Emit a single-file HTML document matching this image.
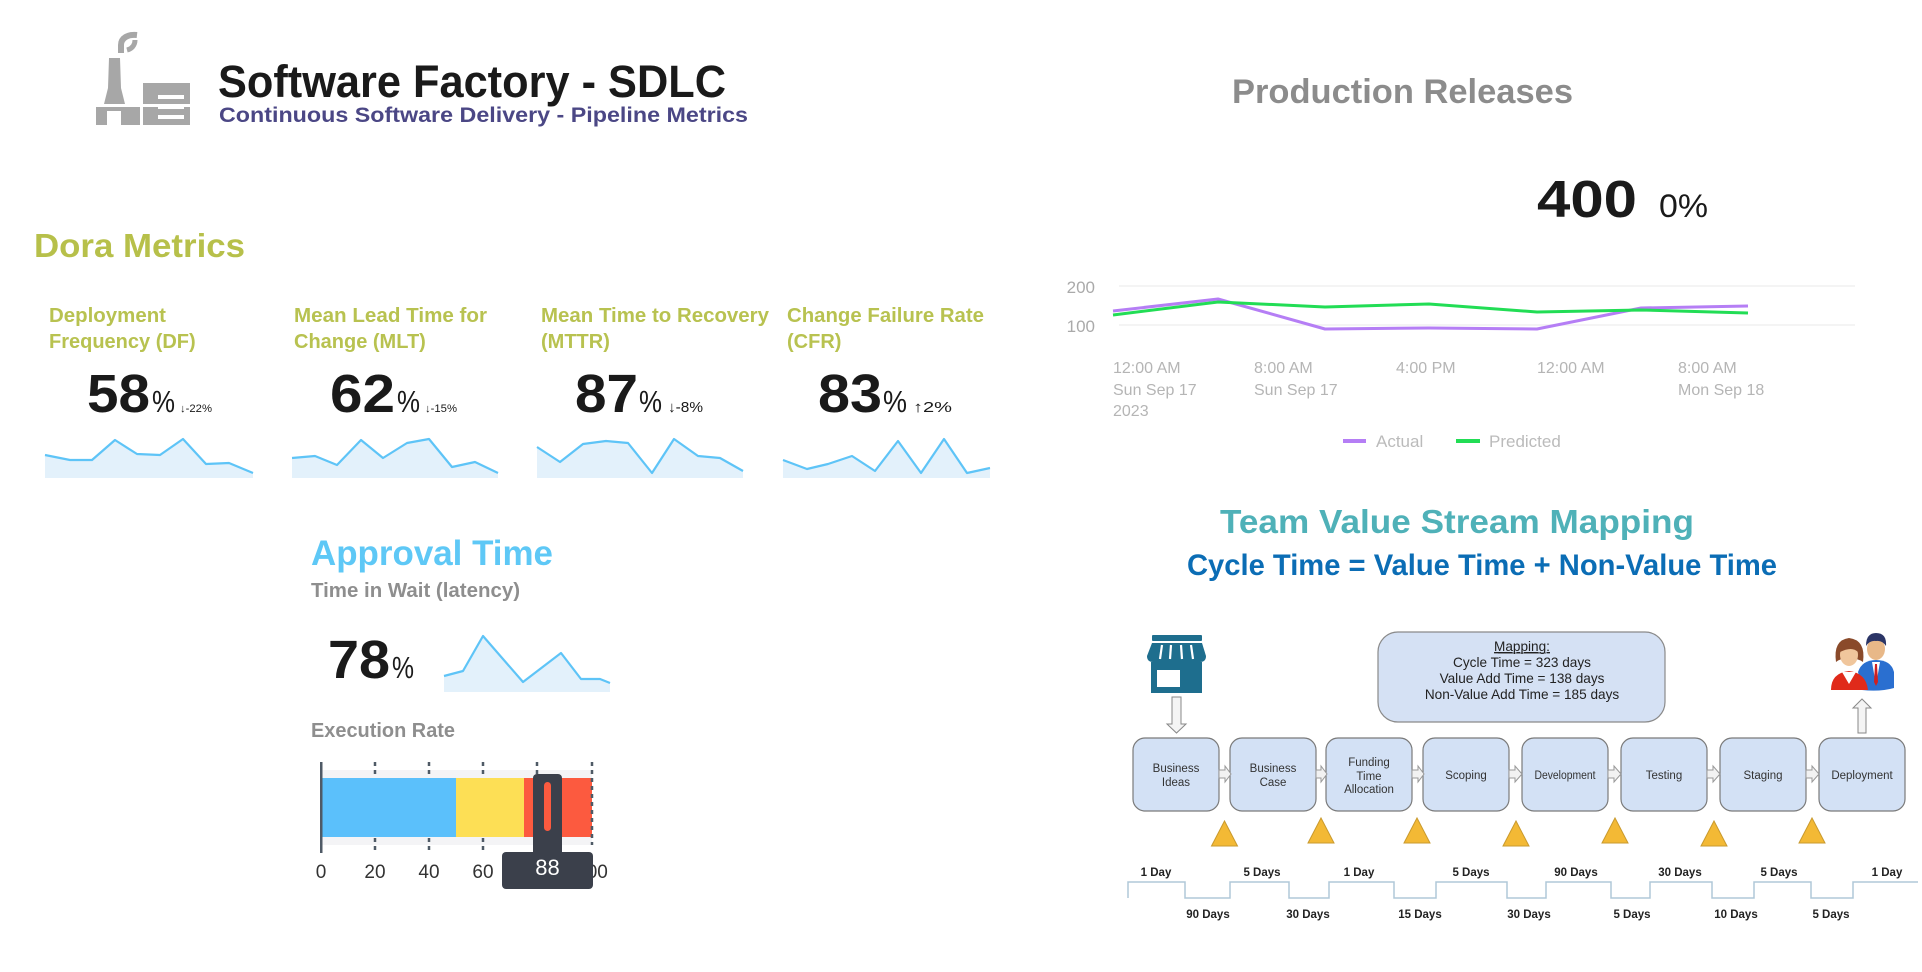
<!DOCTYPE html>
<html><head><meta charset="utf-8"><style>
html,body{margin:0;padding:0;background:#fff;width:1922px;height:972px;overflow:hidden}
svg{display:block}
</style></head><body>
<svg width="1922" height="972" viewBox="0 0 1922 972" xmlns="http://www.w3.org/2000/svg" font-family="'Liberation Sans', Arial, sans-serif">
<rect width="1922" height="972" fill="#ffffff"/>

<!-- Factory icon -->
<g fill="#a7a7a7">
  <path d="M137,35 C128,34 121,38 121,45 L121,53" fill="none" stroke="#a7a7a7" stroke-width="6"/>
  <path d="M135,40 C135,46 131,49 127,50" fill="none" stroke="#a7a7a7" stroke-width="5"/>
  <polygon points="109,58 120,58 121,88 125,104 104,104 108,88"/>
  <rect x="96" y="104" width="48" height="21"/>
  <rect x="143" y="83" width="47" height="42"/>
  <rect x="107" y="111" width="14" height="14" fill="#fff"/>
  <rect x="96" y="104" width="94" height="3" fill="#fff"/>
  <rect x="158" y="95" width="26" height="4" fill="#fff"/>
  <rect x="158" y="105" width="26" height="4" fill="#fff"/>
  <rect x="158" y="115" width="26" height="4" fill="#fff"/>
  <rect x="140" y="107" width="3" height="18" fill="#fff"/>
</g>

<!-- Header -->
<text x="218" y="97" font-size="45" font-weight="bold" fill="#1a1a1a" textLength="508" lengthAdjust="spacingAndGlyphs">Software Factory - SDLC</text>
<text x="219" y="122" font-size="21" font-weight="bold" fill="#4b4785" textLength="529" lengthAdjust="spacingAndGlyphs">Continuous Software Delivery - Pipeline Metrics</text>

<!-- Dora -->
<text x="34" y="257" font-size="33" font-weight="bold" fill="#b7c04a" textLength="211" lengthAdjust="spacingAndGlyphs">Dora Metrics</text>

<g font-size="20" font-weight="bold" fill="#b8c250">
  <text x="49" y="322" textLength="117" lengthAdjust="spacingAndGlyphs">Deployment</text>
  <text x="49" y="348">Frequency (DF)</text>
  <text x="294" y="322" textLength="193" lengthAdjust="spacingAndGlyphs">Mean Lead Time for</text>
  <text x="294" y="348">Change (MLT)</text>
  <text x="541" y="322" textLength="228" lengthAdjust="spacingAndGlyphs">Mean Time to Recovery</text>
  <text x="541" y="348">(MTTR)</text>
  <text x="787" y="322" textLength="197" lengthAdjust="spacingAndGlyphs">Change Failure Rate</text>
  <text x="787" y="348">(CFR)</text>
</g>

<g fill="#1a1a1a">
  <text x="87" y="412" font-size="54" font-weight="bold" textLength="63" lengthAdjust="spacingAndGlyphs">58</text>
  <text x="152" y="412" font-size="31" textLength="23" lengthAdjust="spacingAndGlyphs">%</text>
  <text x="180" y="412" font-size="11" textLength="32" lengthAdjust="spacingAndGlyphs">↓-22%</text>

  <text x="330" y="412" font-size="54" font-weight="bold" textLength="65" lengthAdjust="spacingAndGlyphs">62</text>
  <text x="397" y="412" font-size="31" textLength="23" lengthAdjust="spacingAndGlyphs">%</text>
  <text x="425" y="412" font-size="11" textLength="32" lengthAdjust="spacingAndGlyphs">↓-15%</text>

  <text x="575" y="412" font-size="54" font-weight="bold" textLength="63" lengthAdjust="spacingAndGlyphs">87</text>
  <text x="639" y="412" font-size="31" textLength="23" lengthAdjust="spacingAndGlyphs">%</text>
  <text x="668" y="412" font-size="15" textLength="35" lengthAdjust="spacingAndGlyphs">↓-8%</text>

  <text x="818" y="412" font-size="54" font-weight="bold" textLength="64" lengthAdjust="spacingAndGlyphs">83</text>
  <text x="883" y="412" font-size="31" textLength="24" lengthAdjust="spacingAndGlyphs">%</text>
  <text x="913" y="412" font-size="15" textLength="39" lengthAdjust="spacingAndGlyphs">↑2%</text>
</g>

<!-- Sparklines -->
<g stroke-linejoin="round">
  <polygon fill="#e3f1fb" points="45,455 70,460 92,460 115,440 137,454 160,455 183,439 206,464 229,463 253,473 253,478 45,478"/>
  <polyline fill="none" stroke="#5ec4f7" stroke-width="2.2" points="45,455 70,460 92,460 115,440 137,454 160,455 183,439 206,464 229,463 253,473"/>
  <polygon fill="#e3f1fb" points="292,458 315,456 337,465 361,440 383,458 407,443 429,439 452,467 475,462 498,473 498,478 292,478"/>
  <polyline fill="none" stroke="#5ec4f7" stroke-width="2.2" points="292,458 315,456 337,465 361,440 383,458 407,443 429,439 452,467 475,462 498,473"/>
  <polygon fill="#e3f1fb" points="537,447 560,462 583,444 606,441 628,443 652,473 674,439 698,456 720,458 743,471 743,478 537,478"/>
  <polyline fill="none" stroke="#5ec4f7" stroke-width="2.2" points="537,447 560,462 583,444 606,441 628,443 652,473 674,439 698,456 720,458 743,471"/>
  <polygon fill="#e3f1fb" points="783,460 807,469 828,464 852,456 875,471 898,441 921,473 944,439 967,473 990,468 990,478 783,478"/>
  <polyline fill="none" stroke="#5ec4f7" stroke-width="2.2" points="783,460 807,469 828,464 852,456 875,471 898,441 921,473 944,439 967,473 990,468"/>
</g>

<!-- Approval time -->
<text x="311" y="565" font-size="35" font-weight="bold" fill="#5ec8f6" textLength="242" lengthAdjust="spacingAndGlyphs">Approval Time</text>
<text x="311" y="597" font-size="20" font-weight="bold" fill="#8e8e8e" textLength="209" lengthAdjust="spacingAndGlyphs">Time in Wait (latency)</text>
<text x="328" y="678" font-size="54" font-weight="bold" fill="#1a1a1a" textLength="62" lengthAdjust="spacingAndGlyphs">78</text>
<text x="392" y="678" font-size="31" fill="#1a1a1a" textLength="22" lengthAdjust="spacingAndGlyphs">%</text>
<polygon fill="#e3f1fb" points="444,676 463,671 483,636 523,682 561,653 581,679 600,679 610,683 610,692 444,692"/>
<polyline fill="none" stroke="#5ec4f7" stroke-width="2.2" stroke-linejoin="round" points="444,676 463,671 483,636 523,682 561,653 581,679 600,679 610,683"/>

<!-- Execution rate gauge -->
<text x="311" y="737" font-size="20" font-weight="bold" fill="#8e8e8e" textLength="144" lengthAdjust="spacingAndGlyphs">Execution Rate</text>
<rect x="321" y="770" width="271" height="75" fill="#f4f4f6"/>
<rect x="321" y="778" width="135" height="59" fill="#5bc0fb"/>
<rect x="456" y="778" width="68" height="59" fill="#fddf55"/>
<rect x="524" y="778" width="68" height="59" fill="#fc5a3f"/>
<g stroke="#4f5a66" stroke-width="2.5" stroke-dasharray="4 4">
  <line x1="375" y1="762" x2="375" y2="777"/><line x1="375" y1="838" x2="375" y2="852"/>
  <line x1="429" y1="762" x2="429" y2="777"/><line x1="429" y1="838" x2="429" y2="852"/>
  <line x1="483" y1="762" x2="483" y2="777"/><line x1="483" y1="838" x2="483" y2="852"/>
  <line x1="537" y1="762" x2="537" y2="777"/><line x1="537" y1="838" x2="537" y2="852"/>
  <line x1="592" y1="762" x2="592" y2="845"/>
</g>
<rect x="320" y="762" width="2.5" height="91" fill="#4f5a66"/>
<g font-size="19" fill="#333" text-anchor="middle">
  <text x="321" y="878">0</text>
  <text x="375" y="878">20</text>
  <text x="429" y="878">40</text>
  <text x="483" y="878">60</text>
  <text x="537" y="878">80</text>
  <text x="592" y="878">100</text>
</g>
<rect x="533" y="774" width="29" height="82" rx="4" fill="#3b404b"/>
<rect x="544" y="782" width="7" height="49" rx="3.5" fill="#fc5a3f"/>
<rect x="502" y="852" width="91" height="37" rx="4" fill="#3b404b"/>
<text x="547.5" y="875" font-size="22" fill="#ffffff" text-anchor="middle">88</text>

<!-- Production Releases -->
<text x="1232" y="103" font-size="34" font-weight="bold" fill="#8c8c8c" textLength="341" lengthAdjust="spacingAndGlyphs">Production Releases</text>
<text x="1537" y="217" font-size="52" font-weight="bold" fill="#1a1a1a" textLength="100" lengthAdjust="spacingAndGlyphs">400</text>
<text x="1659" y="217" font-size="32" fill="#1a1a1a" textLength="49" lengthAdjust="spacingAndGlyphs">0%</text>

<line x1="1119" y1="286" x2="1855" y2="286" stroke="#f0f0f0" stroke-width="1.5"/>
<line x1="1119" y1="325" x2="1855" y2="325" stroke="#f0f0f0" stroke-width="1.5"/>
<g font-size="17" fill="#aaaaaa" text-anchor="end">
  <text x="1095" y="293">200</text>
  <text x="1095" y="332">100</text>
</g>
<polyline fill="none" stroke="#b57ef5" stroke-width="3" stroke-linejoin="round" points="1113,311 1218,299 1325,329 1429,328 1537,329 1641,308 1748,306"/>
<polyline fill="none" stroke="#22dd55" stroke-width="3" stroke-linejoin="round" points="1113,315 1218,302 1325,307 1429,304 1537,312 1641,310 1748,313"/>
<g font-size="16" fill="#b5b5b5">
  <text x="1113" y="373">12:00 AM</text>
  <text x="1113" y="395">Sun Sep 17</text>
  <text x="1113" y="416">2023</text>
  <text x="1254" y="373">8:00 AM</text>
  <text x="1254" y="395">Sun Sep 17</text>
  <text x="1396" y="373">4:00 PM</text>
  <text x="1537" y="373">12:00 AM</text>
  <text x="1678" y="373">8:00 AM</text>
  <text x="1678" y="395">Mon Sep 18</text>
</g>
<rect x="1343" y="439" width="23" height="4" fill="#b57ef5"/>
<text x="1376" y="447" font-size="17" fill="#bbbbbb">Actual</text>
<rect x="1456" y="439" width="24" height="4" fill="#22dd55"/>
<text x="1489" y="447" font-size="17" fill="#bbbbbb">Predicted</text>

<!-- VSM titles -->
<text x="1220" y="533" font-size="33" font-weight="bold" fill="#4fb1b8" textLength="474" lengthAdjust="spacingAndGlyphs">Team Value Stream Mapping</text>
<text x="1187" y="575" font-size="30" font-weight="bold" fill="#0b6db5" textLength="590" lengthAdjust="spacingAndGlyphs">Cycle Time = Value Time + Non-Value Time</text>

<!-- Store icon -->
<g fill="#1e6e8e">
  <rect x="1152" y="635" width="50" height="6" rx="1"/>
  <path d="M1152,643 L1202,643 L1206,656 Q1206,662 1200,662 L1153,662 Q1147,662 1147,656 Z"/>
  <rect x="1151" y="662" width="51" height="31"/>
</g>
<g stroke="#fff" stroke-width="2.2">
  <line x1="1162" y1="645" x2="1160" y2="659"/>
  <line x1="1171" y1="645" x2="1170" y2="659"/>
  <line x1="1181" y1="645" x2="1182" y2="659"/>
  <line x1="1191" y1="645" x2="1193" y2="659"/>
</g>
<rect x="1157" y="670" width="23" height="17" fill="#fff"/>
<polygon points="1172,697 1181,697 1181,724 1186,724 1176.5,733 1167,724 1172,724" fill="#f4f4f4" stroke="#888" stroke-width="1"/>

<!-- Mapping box -->
<rect x="1378" y="632" width="287" height="90" rx="20" fill="#d5e1f4" stroke="#8a8a8a" stroke-width="1.2"/>
<g font-size="13.6" fill="#222" text-anchor="middle">
  <text x="1522" y="651" text-decoration="underline">Mapping:</text>
  <line x1="1498" y1="653" x2="1546" y2="653" stroke="#222" stroke-width="0.8"/>
  <text x="1522" y="667">Cycle Time = 323 days</text>
  <text x="1522" y="683">Value Add Time = 138 days</text>
  <text x="1522" y="699">Non-Value Add Time = 185 days</text>
</g>

<!-- People icon -->
<g>
  <path d="M1858,672 Q1862,660 1876,660 Q1891,660 1894,672 L1894,688 Q1880,692 1862,690 Z" fill="#2a6fd0"/>
  <polygon points="1872,662 1880,662 1876,685" fill="#fff"/>
  <polygon points="1875,664 1877,664 1878,682 1876,686 1874,682" fill="#d02020"/>
  <ellipse cx="1876" cy="649" rx="9" ry="11" fill="#e8b888"/>
  <path d="M1866,646 Q1866,633 1876,633 Q1887,633 1886,646 Q1882,640 1876,641 Q1870,640 1866,646 Z" fill="#2b3566"/>
  <path d="M1831,690 Q1831,673 1849,671 Q1866,673 1868,690 Z" fill="#e02a1a"/>
  <polygon points="1842,672 1856,672 1849,684" fill="#fff"/>
  <path d="M1836,662 Q1833,640 1849,638 Q1866,640 1863,662 Q1857,658 1849,658 Q1841,658 1836,662 Z" fill="#8a4a2a"/>
  <ellipse cx="1849" cy="655" rx="9" ry="11" fill="#f0c69c"/>
  <path d="M1840,652 Q1842,642 1852,643 Q1857,645 1858,652 Q1852,646 1840,652 Z" fill="#8a4a2a"/>
</g>
<polygon points="1858,733 1866,733 1866,708 1871,708 1862,699 1853,708 1858,708" fill="#f4f4f4" stroke="#888" stroke-width="1"/>

<!-- Process boxes -->
<g fill="#d3e1f5" stroke="#7a7a7a" stroke-width="1.2">
  <rect x="1133" y="738" width="86" height="73" rx="12"/>
  <rect x="1230" y="738" width="86" height="73" rx="12"/>
  <rect x="1326" y="738" width="86" height="73" rx="12"/>
  <rect x="1423" y="738" width="86" height="73" rx="12"/>
  <rect x="1522" y="738" width="86" height="73" rx="12"/>
  <rect x="1621" y="738" width="86" height="73" rx="12"/>
  <rect x="1720" y="738" width="86" height="73" rx="12"/>
  <rect x="1819" y="738" width="86" height="73" rx="12"/>
</g>
<g fill="#f2f2f2" stroke="#999" stroke-width="1">
  <polygon points="1219,770 1225,770 1225,766 1231,774 1225,782 1225,778 1219,778"/>
  <polygon points="1316,770 1321,770 1321,766 1327,774 1321,782 1321,778 1316,778"/>
  <polygon points="1412,770 1418,770 1418,766 1424,774 1418,782 1418,778 1412,778"/>
  <polygon points="1509,770 1515,770 1515,766 1522,774 1515,782 1515,778 1509,778"/>
  <polygon points="1608,770 1614,770 1614,766 1621,774 1614,782 1614,778 1608,778"/>
  <polygon points="1707,770 1713,770 1713,766 1720,774 1713,782 1713,778 1707,778"/>
  <polygon points="1806,770 1812,770 1812,766 1819,774 1812,782 1812,778 1806,778"/>
</g>
<g font-size="11.5" fill="#333" text-anchor="middle">
  <text x="1176" y="772">Business</text>
  <text x="1176" y="786">Ideas</text>
  <text x="1273" y="772">Business</text>
  <text x="1273" y="786">Case</text>
  <text x="1369" y="766">Funding</text>
  <text x="1369" y="780">Time</text>
  <text x="1369" y="793">Allocation</text>
  <text x="1466" y="779">Scoping</text>
  <text x="1565" y="779" textLength="61" lengthAdjust="spacingAndGlyphs">Development</text>
  <text x="1664" y="779">Testing</text>
  <text x="1763" y="779">Staging</text>
  <text x="1862" y="779">Deployment</text>
</g>

<!-- Triangles -->
<g fill="#f3b935" stroke="#c99a2e" stroke-width="1">
  <polygon points="1211.5,846 1237.5,846 1224.5,821"/>
  <polygon points="1308,843 1334,843 1321,818"/>
  <polygon points="1404,843 1430,843 1417,818"/>
  <polygon points="1503,846 1529,846 1516,821"/>
  <polygon points="1602,843 1628,843 1615,818"/>
  <polygon points="1701,846 1727,846 1714,821"/>
  <polygon points="1799,843 1825,843 1812,818"/>
</g>

<!-- Timeline -->
<polyline fill="none" stroke="#b0c8d8" stroke-width="1.5" points="1128,898 1128,882 1185,882 1185,898 1230,898 1230,882 1289,882 1289,898 1329,898 1329,882 1394,882 1394,898 1436,898 1436,882 1507,882 1507,898 1546,898 1546,882 1611,882 1611,898 1650,898 1650,882 1712,882 1712,898 1754,898 1754,882 1811,882 1811,898 1853,898 1853,882 1918,882"/>
<g font-size="11.5" font-weight="bold" fill="#222" text-anchor="middle">
  <text x="1156" y="876">1 Day</text>
  <text x="1262" y="876">5 Days</text>
  <text x="1359" y="876">1 Day</text>
  <text x="1471" y="876">5 Days</text>
  <text x="1576" y="876">90 Days</text>
  <text x="1680" y="876">30 Days</text>
  <text x="1779" y="876">5 Days</text>
  <text x="1887" y="876">1 Day</text>
  <text x="1208" y="918">90 Days</text>
  <text x="1308" y="918">30 Days</text>
  <text x="1420" y="918">15 Days</text>
  <text x="1529" y="918">30 Days</text>
  <text x="1632" y="918">5 Days</text>
  <text x="1736" y="918">10 Days</text>
  <text x="1831" y="918">5 Days</text>
</g>
</svg>
</body></html>
